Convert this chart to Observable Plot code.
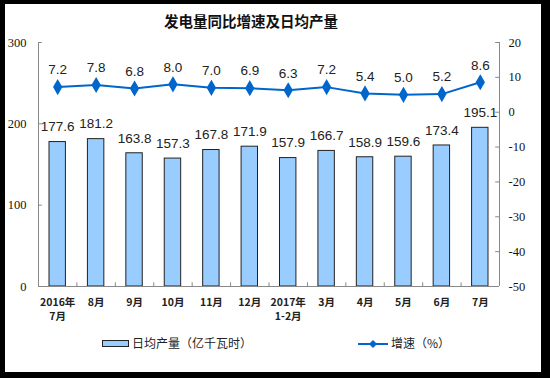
<!DOCTYPE html>
<html>
<head>
<meta charset="utf-8">
<script src="https://cdn.jsdelivr.net/npm/d3@7"></script>
<script src="https://cdn.jsdelivr.net/npm/@observablehq/plot@0.6"></script>
<style>
  html, body { margin: 0; padding: 0; background: #000; width: 550px; height: 378px; overflow: hidden; }
  #frame { position: absolute; left: 5px; top: 4px; width: 536px; height: 368px; background: #fff; }
  #title { position: absolute; left: 0; width: 502px; top: 10px; text-align: center; font: bold 14.5px "Noto Sans CJK SC", sans-serif; color: #111; }
  #chart { position: absolute; left: 0; top: 0; }
  .leg { position: absolute; font: 12px "Noto Sans CJK SC", sans-serif; color: #222; line-height: 14px; }
</style>
</head>
<body>
<div id="frame"></div>
<div id="title">发电量同比增速及日均产量</div>
<div id="chart"></div>
<div id="legend"></div>
<script>
const months = ["2016年\n7月","8月","9月","10月","11月","12月","2017年\n1-2月","3月","4月","5月","6月","7月"];
const output = [177.6,181.2,163.8,157.3,167.8,171.9,157.9,166.7,158.9,159.6,173.4,195.1];
const growth = [7.2,7.8,6.8,8.0,7.0,6.9,6.3,7.2,5.4,5.0,5.2,8.6];
const leftTicks = [0,100,200,300];
const rightTicks = [20,10,0,-10,-20,-30,-40,-50];
const rightDomain = [-50, 20];

const toLeft = g => (g - rightDomain[0]) * 300 / (rightDomain[1] - rightDomain[0]);
const fromLeft = v => Math.round(v * (rightDomain[1] - rightDomain[0]) / 300 + rightDomain[0]);

const data = months.map((m, i) => ({i, m, out: output[i], g: growth[i]}));
const axisColor = "#888";
const numFont = "Liberation Serif";

const chart = Plot.plot({
  width: 550,
  height: 330,
  marginLeft: 38,
  marginRight: 51,
  marginTop: 42,
  marginBottom: 44,
  style: {background: "transparent", overflow: "visible"},
  x: {type: "linear", domain: [0, 12], axis: null},
  y: {domain: [0, 300], axis: null},
  marks: [
    Plot.rectY(data, {x1: d => d.i, x2: d => d.i + 1, y1: 0, y2: d => d.out, insetLeft: 11, insetRight: 11, fill: "#99CCFF", stroke: "#222", strokeWidth: 1}),
    Plot.text(data, {x: d => d.i + 0.5, y: d => d.out, text: d => d.out.toFixed(1), dy: -15, fontSize: 13.5, fontFamily: "Liberation Sans, Arial", fill: "#222"}),
    Plot.line(data, {x: d => d.i + 0.5, y: d => toLeft(d.g), stroke: "#0066CC", strokeWidth: 2}),
    Plot.dot(data, {x: d => d.i + 0.5, y: d => toLeft(d.g), symbol: "diamond", r: 4, fill: "#0066CC", stroke: "#0066CC"}),
    Plot.text(data, {x: d => d.i + 0.5, y: d => toLeft(d.g), text: d => d.g.toFixed(1), dy: -17, fontSize: 13.5, fontFamily: "Liberation Sans, Arial", fill: "#222"}),
    Plot.ruleX([0, 12], {stroke: axisColor, strokeWidth: 1}),
    Plot.ruleY([0], {stroke: axisColor, strokeWidth: 1}),
    Plot.ruleY(leftTicks, {x1: 0, x2: 0.1, stroke: axisColor}),
    Plot.ruleY(rightTicks.map(toLeft), {x1: 11.9, x2: 12, stroke: axisColor}),
    Plot.ruleX(d3.range(13), {y1: 0, y2: 4.5, stroke: axisColor}),
    Plot.axisY(leftTicks, {anchor: "left", tickSize: 0, tickPadding: 12, fontSize: 12.5, fontFamily: numFont, label: null, tickFormat: d => d, fill: "#111"}),
    Plot.axisY(rightTicks.map(toLeft), {anchor: "right", tickSize: 0, tickPadding: 9, fontSize: 12.5, fontFamily: numFont, label: null, tickFormat: fromLeft, fill: "#111"}),
    Plot.axisX(d3.range(12).map(i => i + 0.5), {anchor: "bottom", tickSize: 0, tickPadding: 9, label: null, tickFormat: v => months[Math.floor(v)], fontSize: 10.5, fontWeight: "bold", fontFamily: "Noto Sans CJK SC", lineHeight: 1.35, fill: "#222"})
  ]
});
document.getElementById("chart").appendChild(chart);

const legend = document.getElementById("legend");
legend.innerHTML = `
  <div style="position:absolute;left:102px;top:340px;width:25px;height:5px;background:#99CCFF;border:1px solid #222;"></div>
  <div class="leg" style="left:132px;top:336px;">日均产量（亿千瓦时）</div>
  <svg style="position:absolute;left:356px;top:336px;" width="34" height="16">
    <line x1="2" y1="8" x2="32" y2="8" stroke="#0066CC" stroke-width="2"></line>
    <path d="M17,4 L21,8 L17,12 L13,8 Z" fill="#0066CC"></path>
  </svg>
  <div class="leg" style="left:391px;top:336px;">增速（%）</div>
`;
</script>
</body>
</html>
